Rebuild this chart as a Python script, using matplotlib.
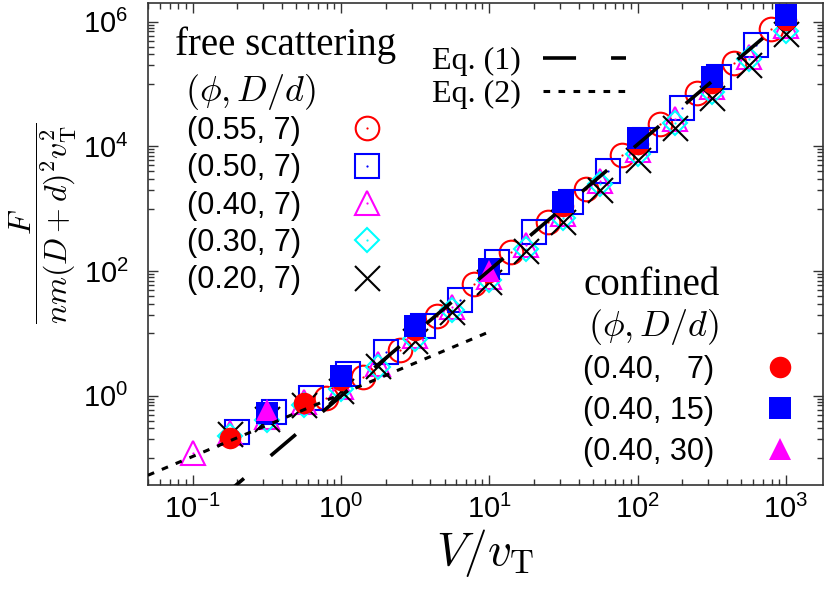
import math
import matplotlib
matplotlib.use('Agg')
import matplotlib.pyplot as plt
from matplotlib.lines import Line2D
from matplotlib.ticker import FixedLocator, FuncFormatter, NullFormatter

plt.rcParams['font.family'] = ['Liberation Sans', 'DejaVu Sans']
plt.rcParams['mathtext.fontset'] = 'cm'
plt.rcParams['lines.scale_dashes'] = False

# free scattering, (phi, D/d)
V55 = [0.79, 1.41, 2.5, 4.47, 7.9, 14.1, 25, 44.7, 79, 141, 251, 447, 794]
F55 = [0.93, 1.97, 5.5, 19, 62, 200, 610, 2100, 7200, 2.3e4, 7.1e4, 2.2e5, 7.6e5]

V50 = [0.2, 0.355, 0.63, 1.12, 2.0, 3.55, 6.3, 11.2, 20, 35.5, 63, 112, 200, 355, 631]
F50 = [0.26, 0.54, 0.92, 2.2, 5.07, 13, 35, 138, 420, 1300, 4100, 12600, 41000, 1.3e5, 4.3e5]

V40 = [0.1, 0.178, 0.316, 0.562, 1, 1.78, 3.16, 5.62, 10, 17.8, 31.6, 56.2, 100, 178, 316, 562, 1000]
F40 = [0.12, 0.25, 0.45, 0.78, 1.4, 3.2, 9.0, 27, 80, 260, 820, 2800, 8800, 2.8e4, 9.0e4, 2.7e5, 8.6e5]

V30 = [0.178, 0.316, 0.562, 1, 1.78, 3.16, 5.62, 10, 17.8, 31.6, 56.2, 100, 178, 316, 562, 1000]
F30 = [0.23, 0.41, 0.70, 1.3, 2.9, 8.0, 24, 72, 230, 700, 2500, 7600, 2.4e4, 7.6e4, 2.5e5, 7.2e5]

V20 = [0.178, 0.316, 0.562, 1, 1.78, 3.16, 5.62, 10, 17.8, 31.6, 56.2, 100, 178, 316, 562, 1000]
F20 = [0.24, 0.42, 0.70, 1.2, 3.0, 7.5, 22, 66, 210, 610, 2000, 6000, 1.95e4, 5.9e4, 2.0e5, 6.4e5]

# confined, (phi, D/d)
Vc7 = [0.178, 0.562, 1, 3.16, 10, 31.6, 100, 316, 1000]
Fc7 = [0.21, 0.76, 1.8, 11.5, 95, 1100, 1.1e4, 1.05e5, 1.05e6]

Vc15 = [0.316, 1, 3.16, 10, 31.6, 100, 316, 1000]
Fc15 = [0.52, 2.1, 13.1, 110, 1300, 1.35e4, 1.3e5, 1.3e6]

Vc30 = [0.316, 10]
Fc30 = [0.59, 100]

# Eq. (1) and Eq. (2)
eq1_V = [0.15, 1050]
eq1_F = [0.0214, 1.24e6]
eq2_V = [0.05, 10]
eq2_F = [0.053, 10.6]

free_labels = ['(0.55, 7)', '(0.50, 7)', '(0.40, 7)', '(0.30, 7)', '(0.20, 7)']
conf_labels = ['(0.40,   7)', '(0.40, 15)', '(0.40, 30)']

red, blue, mag, cyan = '#ff0000', '#0000ff', '#ff00ff', '#00ffff'

fig = plt.figure(figsize=(8.3, 5.89), dpi=100)
ax = fig.add_axes([0.1783, 0.1766, 0.8133, 0.8183])
ax.set_xscale('log')
ax.set_yscale('log')

open_styles = [
    (V55, F55, 'o', red, 17),
    (V50, F50, 's', blue, 17),
    (V40, F40, '^', mag, 17),
    (V30, F30, 'D', cyan, 12),
]
free_handles = []
for V, F, m, c, ms in open_styles:
    ax.plot(V, F, ls='none', marker=m, mfc='none', mec=c, ms=ms, mew=1.5, zorder=3)
    ax.plot(V, F, ls='none', marker='o', color=c, ms=1.6, mew=0, zorder=3)
    free_handles.append((Line2D([], [], ls='none', marker=m, mfc='none', mec=c, ms=ms, mew=1.5),
                         Line2D([], [], ls='none', marker='o', color=c, ms=1.6, mew=0)))
ax.plot(V20, F20, ls='none', marker='x', color='black', ms=18, mew=1.5, zorder=3)
free_handles.append(Line2D([], [], ls='none', marker='x', color='black', ms=18, mew=1.5))

conf_styles = [
    (Vc7, Fc7, 'o', red, 15.5),
    (Vc15, Fc15, 's', blue, 15.5),
    (Vc30, Fc30, '^', mag, 15.5),
]
conf_handles = []
for V, F, m, c, ms in conf_styles:
    ax.plot(V, F, ls='none', marker=m, color=c, ms=ms, mew=0, zorder=4)
    conf_handles.append(Line2D([], [], ls='none', marker=m, color=c, ms=ms, mew=0))

l1, = ax.plot(eq1_V, eq1_F, color='black', lw=2.6, dashes=(23.8, 25.2), zorder=5)
l2, = ax.plot(eq2_V, eq2_F, color='black', lw=2.2, dashes=(4.8, 6.0), zorder=5)

ax.set_xlim(0.05, 1780)
ax.set_ylim(0.037, 2e6)

# ticks
ax.xaxis.set_major_locator(FixedLocator([0.1, 1, 10, 100, 1000]))
ax.xaxis.set_minor_locator(FixedLocator([m * 10.0 ** k for k in range(-2, 4) for m in range(2, 10)]))
ax.yaxis.set_major_locator(FixedLocator([1, 1e2, 1e4, 1e6]))
ax.yaxis.set_minor_locator(FixedLocator([m * 10.0 ** k for k in (-1, 1, 3, 5) for m in range(1, 10)]))
fmt = FuncFormatter(lambda v, p: r'$\mathdefault{10^{%d}}$' % round(math.log10(v)))
ax.xaxis.set_major_formatter(fmt)
ax.yaxis.set_major_formatter(fmt)
ax.xaxis.set_minor_formatter(NullFormatter())
ax.yaxis.set_minor_formatter(NullFormatter())
ax.tick_params(which='both', direction='in', top=True, right=True, labelsize=21, color='#333333', width=1)
ax.tick_params(which='major', length=7)
ax.tick_params(which='minor', length=4)
ax.tick_params(axis='x', pad=7)
ax.tick_params(axis='y', pad=14)
for s in ax.spines.values():
    s.set_color('#333333')
    s.set_linewidth(1.2)

fig.text(43 / 830, 1 - 223 / 589, r'$\dfrac{F}{nm(D+d)^2v_\mathrm{T}^2}$', rotation=90,
         ha='center', va='center', fontsize=23)
fig.text(485 / 830, 1 - 553 / 589, r'$V/v_\mathrm{T}$', ha='center', va='center', fontsize=34)

# legend titles
serif = ['Liberation Serif', 'DejaVu Serif']
fig.text(175 / 830, 1 - 55 / 589, 'free scattering', family=serif, fontsize=28, va='baseline', ha='left')
fig.text(185 / 830, 1 - 92 / 589, r'$(\phi, D/d)$', fontsize=26, va='center', ha='left')
fig.text(583 / 830, 1 - 295 / 589, 'confined', family=serif, fontsize=28, va='baseline', ha='left')
fig.text(588 / 830, 1 - 327 / 589, r'$(\phi, D/d)$', fontsize=26, va='center', ha='left')

leg1 = ax.legend(free_handles, free_labels, loc='upper left', bbox_to_anchor=(187 / 830, 1 - 116 / 589),
                 bbox_transform=fig.transFigure, frameon=False, markerfirst=False, fontsize=22,
                 borderpad=0, borderaxespad=0, labelspacing=0.24, handlelength=1.5, handletextpad=1.4)
ax.add_artist(leg1)
leg2 = ax.legend([l1, l2], ['Eq. (1)', 'Eq. (2)'], loc='upper left', bbox_to_anchor=(432 / 830, 1 - 47 / 589),
                 bbox_transform=fig.transFigure, frameon=False, markerfirst=False,
                 prop={'family': serif, 'size': 23},
                 borderpad=0, borderaxespad=0, labelspacing=0.1, handlelength=2.6, handletextpad=0.7)
ax.add_artist(leg2)
leg3 = ax.legend(conf_handles, conf_labels, loc='upper left', bbox_to_anchor=(583 / 830, 1 - 355 / 589),
                 bbox_transform=fig.transFigure, frameon=False, markerfirst=False, fontsize=22,
                 borderpad=0, borderaxespad=0, labelspacing=0.36, handlelength=1.5, handletextpad=1.4)

fig.savefig('out.png', dpi=100)
